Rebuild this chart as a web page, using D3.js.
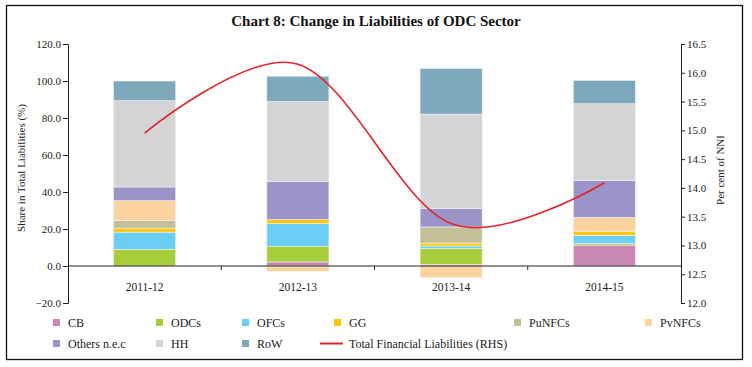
<!DOCTYPE html>
<html>
<head>
<meta charset="utf-8">
<script src="https://cdn.jsdelivr.net/npm/d3@7"></script>
<style>
  html, body { margin: 0; padding: 0; background: #fff; }
  svg { display: block; }
  text { font-family: "Liberation Serif", "DejaVu Serif", serif; fill: #222; }
</style>
</head>
<body>
<svg id="chart" width="752" height="367"></svg>
<script>
// ---- Data ----
const categories = ["2011-12", "2012-13", "2013-14", "2014-15"];
const seriesNames = ["CB", "ODCs", "OFCs", "GG", "PuNFCs", "PvNFCs", "Others n.e.c", "HH", "RoW"];
const CB      = [0.0, 2.2, 0.8, 11.3];
const ODCs    = [9.0, 8.5, 8.7, 0.8];
const OFCs    = [9.3, 12.2, 1.3, 4.5];
const GG      = [2.2, 2.2, 1.6, 2.0];
const PuNFCs  = [4.0, -0.5, 8.7, 0.0];
const PvNFCs  = [10.8, -2.4, -6.3, 7.7];
const Others  = [7.4, 20.7, 9.9, 20.0];
const HH      = [46.7, 43.1, 51.1, 41.4];
const RoW     = [10.6, 13.7, 24.7, 12.6];
const totalFinancialLiabilities = [14.95, 16.15, 13.38, 14.09];
const leftTicks  = [-20, 0, 20, 40, 60, 80, 100, 120];
const rightTicks = [12.0, 12.5, 13.0, 13.5, 14.0, 14.5, 15.0, 15.5, 16.0, 16.5];
const colors = ["#C987B1", "#A7CD3A", "#6BCEF5", "#FFC70B", "#C2BF99", "#FCD29F", "#9A94C8", "#D3D4D6", "#7EA8BC"];
const lineColor = "#E3232B";

const seriesValues = [CB, ODCs, OFCs, GG, PuNFCs, PvNFCs, Others, HH, RoW];
const table = categories.map((c, i) => {
  const row = { category: c };
  seriesNames.forEach((s, j) => { row[s] = seriesValues[j][i]; });
  return row;
});

// ---- Layout ----
const svg = d3.select("#chart");
const plotLeft = 68, plotRight = 681, plotTop = 44, plotBottom = 303;

svg.append("rect").attr("x", 6.5).attr("y", 5.5).attr("width", 736).attr("height", 354)
  .attr("fill", "none").attr("stroke", "#111").attr("stroke-width", 1.3);

svg.append("text").attr("x", 376).attr("y", 26).attr("text-anchor", "middle")
  .style("font-size", "15px").style("font-weight", "bold").style("fill", "#111")
  .text("Chart 8: Change in Liabilities of ODC Sector");

const x = d3.scaleBand().domain(categories).range([plotLeft, plotRight]).padding(0);
const yL = d3.scaleLinear().domain([-20, 120]).range([plotBottom, plotTop]);
const yR = d3.scaleLinear().domain([12.0, 16.5]).range([plotBottom, plotTop]);

const stack = d3.stack().keys(seriesNames).offset(d3.stackOffsetDiverging);
const stacked = stack(table);
const barW = x.bandwidth() * 0.405;

svg.append("g").selectAll("g").data(stacked).join("g")
  .attr("fill", (d, i) => colors[i])
  .selectAll("rect").data(d => d).join("rect")
  .attr("x", d => x(d.data.category) + (x.bandwidth() - barW) / 2)
  .attr("width", barW)
  .attr("y", d => yL(Math.max(d[0], d[1])))
  .attr("height", d => Math.abs(yL(d[0]) - yL(d[1])))
  .attr("stroke", "#f2f2f2").attr("stroke-width", 0.6);

// Left axis
const axL = svg.append("g").attr("transform", `translate(${plotLeft},0)`)
  .call(d3.axisLeft(yL).tickValues(leftTicks).tickFormat(d3.format(".1f")).tickSize(5).tickPadding(2));
axL.select(".domain").attr("stroke", "#222");
axL.selectAll(".tick line").attr("stroke", "#222");
axL.selectAll("text").style("font-size", "11px").style("font-family", "'Liberation Serif', serif").attr("fill", "#222");

// Right axis
const axR = svg.append("g").attr("transform", `translate(${plotRight},0)`)
  .call(d3.axisRight(yR).tickValues(rightTicks).tickFormat(d3.format(".1f")).tickSize(4).tickPadding(2));
axR.select(".domain").attr("stroke", "#222");
axR.selectAll(".tick line").attr("stroke", "#222");
axR.selectAll("text").style("font-size", "11px").style("font-family", "'Liberation Serif', serif").attr("fill", "#222");

// Category axis at zero
const y0 = yL(0);
svg.append("line").attr("x1", plotLeft).attr("x2", plotRight).attr("y1", y0).attr("y2", y0)
  .attr("stroke", "#222").attr("stroke-width", 1);
const boundaries = categories.slice(1).map(c => x(c));
svg.append("g").selectAll("line").data(boundaries).join("line")
  .attr("x1", d => d).attr("x2", d => d).attr("y1", y0).attr("y2", y0 + 4)
  .attr("stroke", "#222");
svg.append("g").selectAll("text").data(categories).join("text")
  .attr("x", d => x(d) + x.bandwidth() / 2).attr("y", 291)
  .attr("text-anchor", "middle").style("font-size", "11.5px").text(d => d);

// Line
const line = d3.line()
  .x((d, i) => x(categories[i]) + x.bandwidth() / 2)
  .y(d => yR(d))
  .curve(d3.curveCardinal.tension(0));
svg.append("path").datum(totalFinancialLiabilities).attr("d", line)
  .attr("fill", "none").attr("stroke", lineColor).attr("stroke-width", 1.6);

// Axis titles
svg.append("text").attr("transform", "translate(25,168) rotate(-90)")
  .attr("text-anchor", "middle").style("font-size", "11px").text("Share in Total Liabilities (%)");
svg.append("text").attr("transform", "translate(724,170) rotate(-90)")
  .attr("text-anchor", "middle").style("font-size", "11px").text("Per cent of NNI");

// Legend
const legendItems = [
  { name: "CB", idx: 0, x: 53, y: 322.5 },
  { name: "ODCs", idx: 1, x: 156, y: 322.5 },
  { name: "OFCs", idx: 2, x: 242, y: 322.5 },
  { name: "GG", idx: 3, x: 334, y: 322.5 },
  { name: "PuNFCs", idx: 4, x: 514, y: 322.5 },
  { name: "PvNFCs", idx: 5, x: 645, y: 322.5 },
  { name: "Others n.e.c", idx: 6, x: 53, y: 343.5 },
  { name: "HH", idx: 7, x: 156, y: 343.5 },
  { name: "RoW", idx: 8, x: 242, y: 343.5 }
];
const lg = svg.append("g");
lg.selectAll("rect").data(legendItems).join("rect")
  .attr("x", d => d.x).attr("y", d => d.y - 3.5).attr("width", 7).attr("height", 7)
  .attr("fill", d => colors[d.idx]);
lg.selectAll("text").data(legendItems).join("text")
  .attr("x", d => d.x + 15).attr("y", d => d.y + 4)
  .style("font-size", "12px").text(d => d.name);
lg.append("line").attr("x1", 320).attr("x2", 343).attr("y1", 343.5).attr("y2", 343.5)
  .attr("stroke", lineColor).attr("stroke-width", 2);
lg.append("text").attr("x", 349).attr("y", 347.5).style("font-size", "12px")
  .text("Total Financial Liabilities (RHS)");
</script>
</body>
</html>
